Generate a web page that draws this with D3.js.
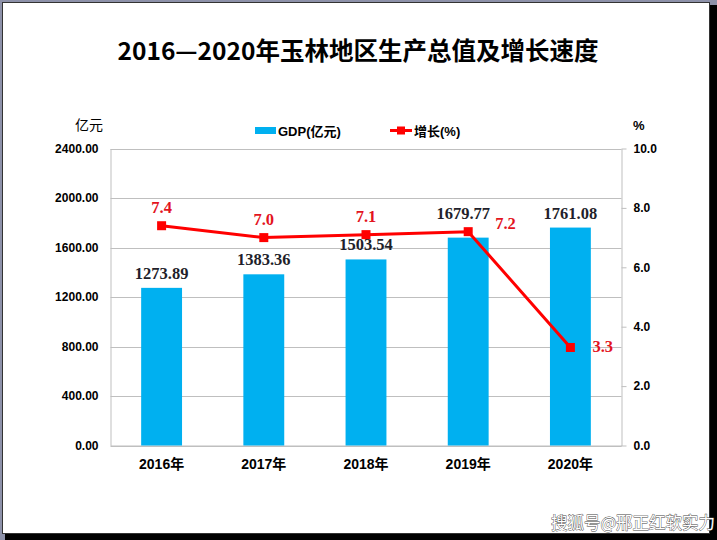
<!DOCTYPE html>
<html>
<head>
<meta charset="utf-8">
<script src="https://cdn.jsdelivr.net/npm/d3@7/dist/d3.min.js"></script>
<style>
  html, body { margin: 0; padding: 0; background: #8d91a9; }
  svg { display: block; }
</style>
</head>
<body>
<svg id="chart" width="717" height="540"></svg>
<script>
const years = ["2016年", "2017年", "2018年", "2019年", "2020年"];
const gdp = [1273.89, 1383.36, 1503.54, 1679.77, 1761.08];
const growth = [7.4, 7.0, 7.1, 7.2, 3.3];
const leftTicks = [0, 400, 800, 1200, 1600, 2000, 2400];
const rightTicks = [0, 2, 4, 6, 8, 10];
const title = "2016—2020年玉林地区生产总值及增长速度";
const seriesNames = ["GDP(亿元)", "增长(%)"];

const svg = d3.select("#chart");
const SANS = "'Liberation Sans', Arial, 'Noto Sans CJK SC', sans-serif";
const CJK = "'Noto Sans CJK SC', 'Liberation Sans', sans-serif";
const SERIF = "'Liberation Serif', 'Times New Roman', serif";
const BLUE = "#00b0f0", RED = "#ff0000", LRED = "#e3141e";

// frame with shadow
svg.append("rect").attr("x", 5).attr("y", 5).attr("width", 712).attr("height", 535).attr("fill", "#000");
svg.append("rect").attr("x", 2.5).attr("y", 2.5).attr("width", 707).attr("height", 531)
  .attr("fill", "#fff").attr("stroke", "#333").attr("stroke-width", 1);

// title
svg.append("text").attr("x", 358).attr("y", 60).attr("text-anchor", "middle")
  .attr("font-family", CJK).attr("font-weight", "bold").attr("font-size", 24.5).attr("fill", "#000")
  .text(title);

const pL = 110.5, pR = 621.5, pT = 148.5, pB = 445.5;
const x = d3.scaleBand().domain(years).range([pL, pR]).padding(0);
const yL = d3.scaleLinear().domain([0, 2400]).range([pB, pT]);
const yR = d3.scaleLinear().domain([0, 10]).range([pB, pT]);
const cx = d => x(d) + x.bandwidth() / 2;
const barW = x.bandwidth() * 0.4;

// gridlines
svg.append("g").selectAll("line").data(leftTicks).join("line")
  .attr("x1", pL).attr("x2", pR)
  .attr("y1", d => Math.round(yL(d)) + 0.5).attr("y2", d => Math.round(yL(d)) + 0.5)
  .attr("stroke", "#bfbfbf").attr("stroke-width", 1);

// left axis
const axL = svg.append("g").attr("transform", `translate(${pL},0)`)
  .call(d3.axisLeft(yL).tickValues(leftTicks).tickFormat(d3.format(".2f")).tickSize(0).tickPadding(12));
axL.select(".domain").attr("stroke", "#bfbfbf");
axL.selectAll("text").attr("font-family", SANS).attr("font-weight", "bold").attr("font-size", 12).attr("fill", "#000");

// right axis
const axR = svg.append("g").attr("transform", `translate(${pR},0)`)
  .call(d3.axisRight(yR).tickValues(rightTicks).tickFormat(d3.format(".1f")).tickSizeInner(5).tickSizeOuter(0).tickPadding(7));
axR.select(".domain").attr("stroke", "#bfbfbf");
axR.selectAll(".tick line").attr("stroke", "#bfbfbf");
axR.selectAll("text").attr("font-family", SANS).attr("font-weight", "bold").attr("font-size", 12).attr("fill", "#000");

// bottom axis
const axB = svg.append("g").attr("transform", `translate(0,${pB})`)
  .call(d3.axisBottom(x).tickSize(0).tickPadding(14));
axB.select(".domain").attr("stroke", "#bfbfbf");
axB.selectAll("text").attr("font-family", SANS).attr("font-weight", "bold").attr("font-size", 14).attr("fill", "#000");

// units
svg.append("text").attr("x", 89).attr("y", 130).attr("text-anchor", "middle")
  .attr("font-family", CJK).attr("font-size", 14).attr("fill", "#000").text("亿元");
svg.append("text").attr("x", 633).attr("y", 130)
  .attr("font-family", SANS).attr("font-weight", "bold").attr("font-size", 13).attr("fill", "#000").text("%");

// bars
svg.append("g").selectAll("rect").data(years).join("rect")
  .attr("x", d => cx(d) - barW / 2).attr("width", barW)
  .attr("y", (d, i) => yL(gdp[i])).attr("height", (d, i) => pB - yL(gdp[i]))
  .attr("fill", BLUE);

// bar labels (2019 label nudged up/left to clear the line and its label)
const nudge = { "2019年": [-5, 10] };
svg.append("g").selectAll("text").data(years).join("text")
  .attr("x", d => cx(d) + (nudge[d] ? nudge[d][0] : 0))
  .attr("y", (d, i) => yL(gdp[i]) - 9 - (nudge[d] ? nudge[d][1] : 0))
  .attr("text-anchor", "middle").attr("font-family", SERIF).attr("font-weight", "bold")
  .attr("font-size", 16.5).attr("fill", "#1f1f2b")
  .text((d, i) => gdp[i].toFixed(2));

// growth line
const line = d3.line().x(d => cx(d)).y((d, i) => yR(growth[i]));
svg.append("path").datum(years).attr("d", line)
  .attr("fill", "none").attr("stroke", RED).attr("stroke-width", 3);
svg.append("g").selectAll("rect").data(years).join("rect")
  .attr("x", d => cx(d) - 4.5).attr("y", (d, i) => yR(growth[i]) - 4.5)
  .attr("width", 9).attr("height", 9).attr("fill", RED);

// growth labels: above for first three, right for last two
const rightOff = { "2019年": [27, -3], "2020年": [22, 5] };
svg.append("g").selectAll("text").data(years).join("text")
  .attr("x", (d, i) => rightOff[d] ? cx(d) + rightOff[d][0] : cx(d))
  .attr("y", (d, i) => rightOff[d] ? yR(growth[i]) + rightOff[d][1] : yR(growth[i]) - 13)
  .attr("text-anchor", d => rightOff[d] ? "start" : "middle")
  .attr("font-family", SERIF).attr("font-weight", "bold").attr("font-size", 16.5).attr("fill", LRED)
  .text((d, i) => growth[i].toFixed(1));

// legend
const lg = svg.append("g");
lg.append("rect").attr("x", 255).attr("y", 127).attr("width", 21).attr("height", 7).attr("fill", BLUE);
lg.append("text").attr("x", 278).attr("y", 136).attr("font-family", SANS).attr("font-weight", "bold")
  .attr("font-size", 13).attr("fill", "#000").text(seriesNames[0]);
lg.append("line").attr("x1", 390).attr("x2", 412).attr("y1", 130.5).attr("y2", 130.5)
  .attr("stroke", RED).attr("stroke-width", 3);
lg.append("rect").attr("x", 397).attr("y", 126.5).attr("width", 8).attr("height", 8).attr("fill", RED);
lg.append("text").attr("x", 414).attr("y", 136).attr("font-family", SANS).attr("font-weight", "bold")
  .attr("font-size", 13).attr("fill", "#000").text(seriesNames[1]);

// watermark
svg.append("text").attr("x", 715).attr("y", 529).attr("text-anchor", "end")
  .attr("font-family", CJK).attr("font-size", 16.5).attr("fill", "#fff")
  .attr("stroke", "#444").attr("stroke-width", 0.8).attr("paint-order", "stroke")
  .text("搜狐号@邢正红软实力");
</script>
</body>
</html>
